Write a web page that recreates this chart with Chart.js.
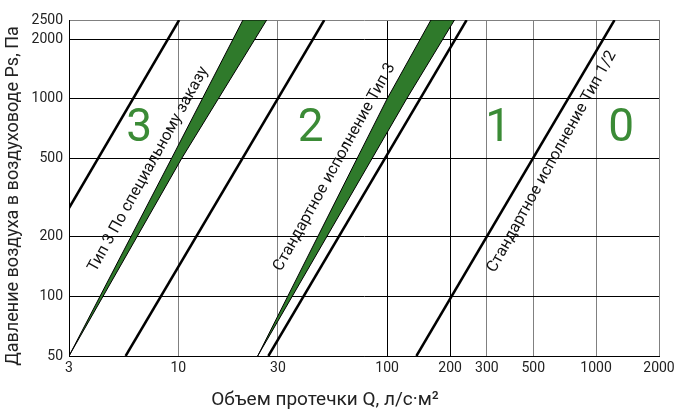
<!DOCTYPE html>
<html>
<head>
<meta charset="utf-8">
<script src="https://cdn.jsdelivr.net/npm/chart.js@4.4.1/dist/chart.umd.min.js"></script>
<style>
  html, body { margin: 0; padding: 0; background: #fff; }
  #wrap { width: 686px; height: 411px; }
</style>
</head>
<body>
<div id="wrap"><canvas id="leakChart"></canvas></div>
<script>
const xTicks = [3, 10, 30, 100, 200, 300, 500, 1000, 2000];
const yTicks = [50, 100, 200, 500, 1000, 2000, 2500];

// class boundary lines, [Q, Ps]
const line3 = [[3, 280], [10.1, 2500]];
const line32 = [[5.6, 50], [50, 2500]];
const line21 = [[27, 50], [240, 2500]];
const line10 = [[138, 50], [1225, 2500]];

// green bands: left edge going up, right edge coming down
const bandSpecial = [[3, 50], [9.3, 500], [20.4, 2500], [26.5, 2500], [10.4, 500], [3, 50]];
const bandStandard = [[24, 50], [100, 1000], [162, 2500], [210, 2500], [124, 1000], [24, 50]];

const classLabels = ['3', '2', '1', '0'];
const classPos = [[6.5, 700], [43, 700], [340, 700], [1320, 700]];
const curveLabels = ['Тип 3 По специальному заказу', 'Стандартное исполнение Тип 3', 'Стандартное исполнение Тип 1/2'];
const curvePos = [[7.2, 440], [56, 450], [615, 480]];

const GREEN = '#2f7a2b';
const toXY = arr => arr.map(([x, y]) => ({ x, y }));

const bandSet = pts => ({
  data: toXY(pts),
  showLine: true,
  fill: 'shape',
  backgroundColor: GREEN,
  borderColor: '#000',
  borderWidth: 1,
  pointRadius: 0
});
const lineSet = pts => ({
  data: toXY(pts),
  showLine: true,
  fill: false,
  borderColor: '#000',
  borderWidth: 2.5,
  pointRadius: 0
});

const annotations = {
  id: 'annotations',
  afterDatasetsDraw(chart) {
    const { ctx, scales: { x, y } } = chart;
    ctx.save();
    ctx.textAlign = 'center';
    ctx.textBaseline = 'middle';
    ctx.fillStyle = '#3b8b36';
    ctx.font = '46px Roboto';
    classLabels.forEach((t, i) => {
      ctx.fillText(t, x.getPixelForValue(classPos[i][0]), y.getPixelForValue(classPos[i][1]));
    });
    ctx.fillStyle = '#111';
    ctx.font = '16px Roboto';
    curveLabels.forEach((t, i) => {
      ctx.save();
      ctx.translate(x.getPixelForValue(curvePos[i][0]), y.getPixelForValue(curvePos[i][1]));
      ctx.rotate(-61 * Math.PI / 180);
      ctx.fillText(t, 0, 0);
      ctx.restore();
    });
    // axis titles
    ctx.fillStyle = '#222';
    ctx.font = '19px Roboto';
    ctx.fillText('Объем протечки Q, л/с·м²', 325, 400);
    ctx.save();
    ctx.translate(13, 196);
    ctx.rotate(-Math.PI / 2);
    ctx.font = '18px Roboto';
    ctx.fillText('Давление воздуха в воздуховоде Ps, Па', 0, 0);
    ctx.restore();
    ctx.restore();
  }
};

new Chart(document.getElementById('leakChart'), {
  type: 'scatter',
  data: {
    datasets: [
      bandSet(bandSpecial),
      bandSet(bandStandard),
      lineSet(line3),
      lineSet(line32),
      lineSet(line21),
      lineSet(line10)
    ]
  },
  options: {
    responsive: true,
    maintainAspectRatio: false,
    animation: false,
    layout: { padding: { top: 20, right: 27, left: 0, bottom: 0 } },
    plugins: { legend: { display: false }, tooltip: { enabled: false } },
    scales: {
      x: {
        type: 'logarithmic',
        min: 3,
        max: 2000,
        afterBuildTicks: axis => { axis.ticks = xTicks.map(v => ({ value: v })); },
        afterFit: axis => { axis.height = 55; },
        ticks: {
          autoSkip: false,
          maxRotation: 0,
          minRotation: 0,
          padding: 4,
          color: '#222',
          font: { family: 'Roboto', size: 14 },
          callback: v => String(v)
        },
        grid: {
          drawTicks: false,
          color: c => (c.tick && (c.tick.value === 100 || c.tick.value === 200)) ? '#000' : '#808080'
        },
        border: { color: '#000', width: 1 }
      },
      y: {
        type: 'logarithmic',
        min: 50,
        max: 2500,
        afterBuildTicks: axis => { axis.ticks = yTicks.map(v => ({ value: v })); },
        afterFit: axis => { axis.width = 69; },
        ticks: {
          autoSkip: false,
          padding: 6,
          color: '#222',
          font: { family: 'Roboto', size: 14 },
          callback: v => String(v)
        },
        grid: {
          drawTicks: false,
          color: c => (c.tick && c.tick.value === 2500) ? '#808080' : '#000'
        },
        border: { color: '#000', width: 1 }
      }
    }
  },
  plugins: [annotations]
});
</script>
</body>
</html>
